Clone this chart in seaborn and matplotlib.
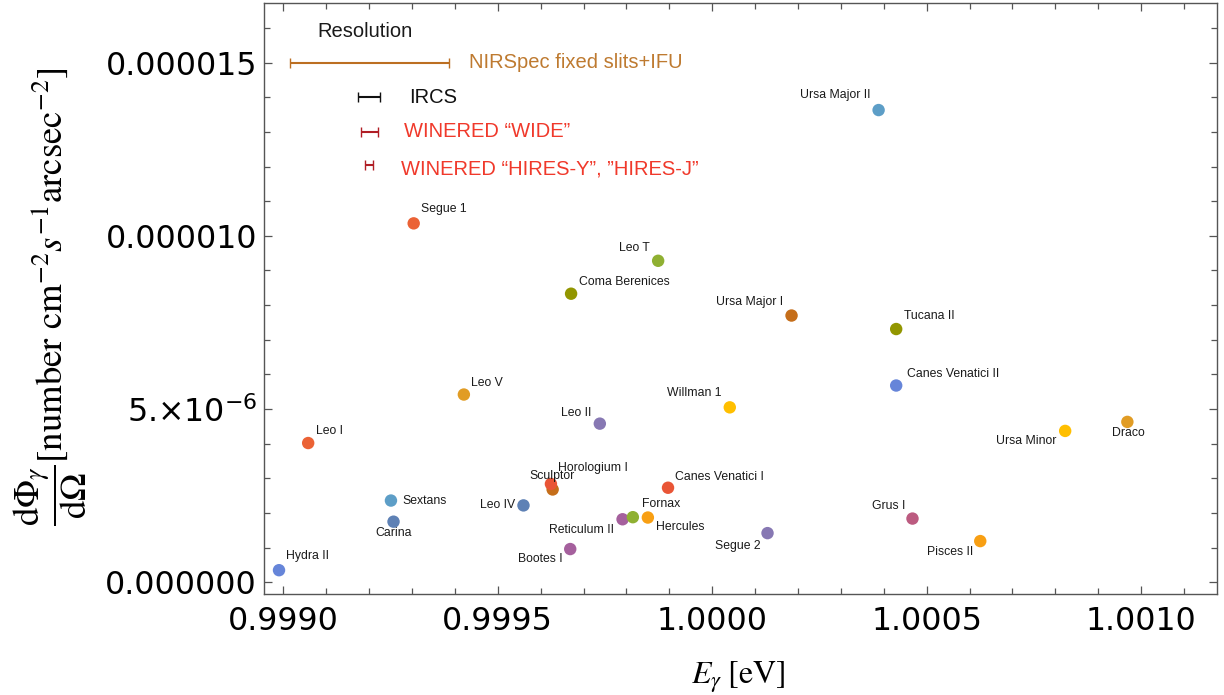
import matplotlib
matplotlib.use("Agg")
import matplotlib.pyplot as plt
import seaborn as sns
import pandas as pd
from matplotlib.ticker import FixedLocator, FixedFormatter, MultipleLocator

# ---------------- data ----------------
names = ["Hydra II", "Leo I", "Carina", "Sextans", "Segue 1", "Leo V", "Leo IV",
         "Horologium I", "Sculptor", "Coma Berenices", "Bootes I", "Leo II",
         "Reticulum II", "Fornax", "Hercules", "Leo T", "Canes Venatici I",
         "Willman 1", "Segue 2", "Ursa Major I", "Ursa Major II", "Tucana II",
         "Canes Venatici II", "Grus I", "Pisces II", "Ursa Minor", "Draco"]
energy = [0.998990, 0.999058, 0.999257, 0.999251, 0.999304, 0.999421, 0.999560,
          0.999628, 0.999624, 0.999671, 0.999669, 0.999738,
          0.999791, 0.999815, 0.999850, 0.999874, 0.999897,
          1.000041, 1.000129, 1.000185, 1.000388, 1.000429,
          1.000429, 1.000467, 1.000625, 1.000823, 1.000968]
flux = [0.35e-6, 4.02e-6, 1.75e-6, 2.36e-6, 10.36e-6, 5.42e-6, 2.22e-6,
        2.68e-6, 2.84e-6, 8.33e-6, 0.96e-6, 4.58e-6,
        1.82e-6, 1.88e-6, 1.87e-6, 9.28e-6, 2.73e-6,
        5.05e-6, 1.42e-6, 7.70e-6, 13.63e-6, 7.31e-6,
        5.68e-6, 1.84e-6, 1.19e-6, 4.37e-6, 4.63e-6]

res_labels = ["NIRSpec fixed slits+IFU", "IRCS", "WINERED \u201cWIDE\u201d",
              "WINERED \u201cHIRES-Y\u201d, \u201dHIRES-J\u201d"]
res_center = [0.9992, 0.9992, 0.9992, 0.9992]
res_halfwidth = [0.0001855, 0.0000257, 0.0000198, 0.0000093]
res_level = [15.0e-6, 14.0e-6, 13.0e-6, 12.05e-6]

xtick_values = [0.9990, 0.9995, 1.0000, 1.0005, 1.0010]
xtick_labels = ["0.9990", "0.9995", "1.0000", "1.0005", "1.0010"]
ytick_values = [0.0, 5e-6, 10e-6, 15e-6]
ytick_labels = ["0.000000", "5.\u00d710$^{-6}$", "0.000010", "0.000015"]

# ---------------- styles ----------------
palette = {
    "Carina": "#5E81B5", "Leo IV": "#5E81B5",
    "Draco": "#E19C24", "Leo V": "#E19C24",
    "Leo T": "#8FB032", "Fornax": "#8FB032",
    "Segue 1": "#EB6235", "Leo I": "#EB6235",
    "Leo II": "#8778B3", "Segue 2": "#8778B3",
    "Ursa Major I": "#C56E1A", "Horologium I": "#C56E1A",
    "Ursa Major II": "#5D9EC7", "Sextans": "#5D9EC7",
    "Willman 1": "#FFBF00", "Ursa Minor": "#FFBF00",
    "Bootes I": "#A5609D", "Reticulum II": "#A5609D",
    "Coma Berenices": "#929600", "Tucana II": "#929600",
    "Canes Venatici I": "#E95536", "Sculptor": "#E95536",
    "Canes Venatici II": "#6685D9", "Hydra II": "#6685D9",
    "Hercules": "#F89F13", "Pisces II": "#F89F13",
    "Grus I": "#BC5B80",
}
# label offsets in pixels (dx, dy, ha)
label_layout = {
    "Hydra II": (7, 14, "left"), "Leo I": (8, 12, "left"),
    "Carina": (0, -11, "center"), "Sextans": (11, 0, "left"),
    "Segue 1": (7, 14, "left"), "Leo V": (7, 12, "left"),
    "Leo IV": (-8, 0, "right"), "Horologium I": (5, 21, "left"),
    "Sculptor": (1, 8, "center"), "Coma Berenices": (8, 12, "left"),
    "Bootes I": (-8, -10, "right"), "Leo II": (-8, 11, "right"),
    "Reticulum II": (-9, -11, "right"), "Fornax": (9, 13, "left"),
    "Hercules": (8, -9, "left"), "Leo T": (-8, 13, "right"),
    "Canes Venatici I": (7, 11, "left"), "Willman 1": (-8, 14, "right"),
    "Segue 2": (-7, -13, "right"), "Ursa Major I": (-8, 14, "right"),
    "Ursa Major II": (-8, 15, "right"), "Tucana II": (8, 13, "left"),
    "Canes Venatici II": (11, 12, "left"), "Grus I": (-7, 13, "right"),
    "Pisces II": (-7, -11, "right"), "Ursa Minor": (-9, -10, "right"),
    "Draco": (1, -11, "center"),
}
res_bar_colors = ["#BC6F22", "#111111", "#B01E25", "#B01E25"]
res_text_colors = ["#BE7A30", "#111111", "#F0392B", "#F0392B"]
res_text_pos = [(0.999434, 15.0e-6), (0.999294, 14.0e-6),
                (0.999281, 13.0e-6), (0.999274, 11.94e-6)]

sns.set_style("ticks")
plt.rcParams["font.family"] = ["Liberation Sans", "DejaVu Sans"]

W, H = 1224, 695
fig = plt.figure(figsize=(W / 100, H / 100), dpi=100)
ax = fig.add_axes([264 / W, 101 / H, 953 / W, 591 / H])

df = pd.DataFrame({"name": names, "E": energy, "flux": flux})
sns.scatterplot(data=df, x="E", y="flux", hue="name", palette=palette,
                s=80, edgecolor="none", linewidth=0, legend=False, ax=ax, zorder=3)

for n, xv, yv in zip(names, energy, flux):
    dx, dy, ha = label_layout[n]
    kw = {}
    if n == "Horologium I":
        kw["bbox"] = dict(facecolor="white", edgecolor="none", alpha=0.6, pad=0.3)
    ax.annotate(n, (xv, yv), xytext=(dx, dy), textcoords="offset pixels",
                ha=ha, va="center", fontsize=8.8, color="#1a1a1a",
                family="Liberation Sans", zorder=4, **kw)

# resolution bars
for c, hw, lv, bc in zip(res_center, res_halfwidth, res_level, res_bar_colors):
    ax.errorbar([c], [lv], xerr=[hw], fmt="none", ecolor=bc, elinewidth=1.5,
                capsize=3.3, capthick=1.0, zorder=3)
for lab, (tx, ty), tc in zip(res_labels, res_text_pos, res_text_colors):
    ax.text(tx, ty, lab, ha="left", va="center", fontsize=14.5, color=tc,
            family="Liberation Sans")
ax.text(0.999191, 15.89e-6, "Resolution", ha="center", va="center",
        fontsize=14.5, color="#1a1a1a", family="Liberation Sans")

# axes
ax.set_xlim(0.998955, 1.001177)
ax.set_ylim(-0.337e-6, 16.72e-6)
ax.xaxis.set_major_locator(FixedLocator(xtick_values))
ax.xaxis.set_major_formatter(FixedFormatter(xtick_labels))
ax.xaxis.set_minor_locator(MultipleLocator(0.0001))
ax.yaxis.set_major_locator(FixedLocator(ytick_values))
ax.yaxis.set_major_formatter(FixedFormatter(ytick_labels))
ax.yaxis.set_minor_locator(MultipleLocator(1e-6))
ax.tick_params(which="both", direction="in", top=True, right=True,
               color="#555555", width=0.9, labelcolor="black")
ax.tick_params(which="major", length=6)
ax.tick_params(which="minor", length=4)
ax.tick_params(axis="x", pad=9)
ax.tick_params(axis="y", pad=5)
for lbl in ax.get_xticklabels() + ax.get_yticklabels():
    lbl.set_fontfamily("DejaVu Sans")
    lbl.set_fontsize(22.8)
    lbl.set_color("black")
    lbl.set_math_fontfamily("dejavusans")
for sp in ax.spines.values():
    sp.set_color("#555555")
    sp.set_linewidth(1.0)
ax.set_xlabel("")
ax.set_ylabel("")

fig.text(738 / W, 1 - 677 / H, r"$E_\gamma\;[\mathrm{eV}]$", ha="center",
         va="center", fontsize=23, math_fontfamily="stix", color="black")
fig.text(50 / W, 1 - 297 / H,
         r"$\dfrac{\mathrm{d}\Phi_\gamma}{\mathrm{d}\Omega}[\mathrm{number\ cm}^{-2}s^{-1}\mathrm{arcsec}^{-2}]$",
         rotation=90, ha="center", va="center", fontsize=26.5,
         math_fontfamily="stix", color="black")

fig.savefig("out.png", dpi=100)
